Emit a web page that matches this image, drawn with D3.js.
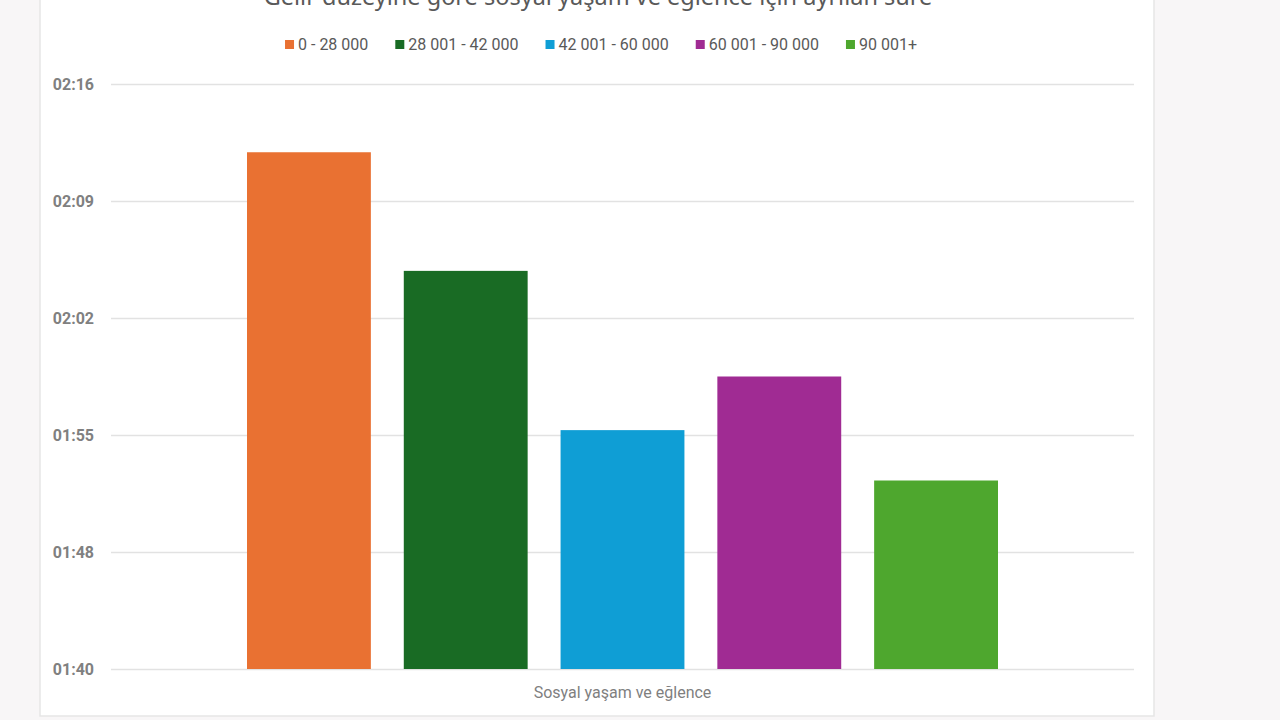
<!DOCTYPE html>
<html>
<head>
<meta charset="utf-8">
<script src="https://cdn.jsdelivr.net/npm/d3@7"></script>
<style>
  body { margin: 0; background: #f8f6f7; }
  svg { display: block; font-family: "Noto Sans", sans-serif; }
</style>
</head>
<body>
<script>
// time spent, in minutes, per income group
const category = "Sosyal yaşam ve eğlence";
const groups = ["0 - 28 000", "28 001 - 42 000", "42 001 - 60 000", "60 001 - 90 000", "90 001+"];
const minutes = [132.6, 125.3, 115.5, 118.8, 112.4];
const colors = ["#e97132", "#196b24", "#0f9ed5", "#a02b93", "#4ea72e"];
// axis ticks (Excel major unit 0.005 day = 7.2 min)
const tickMinutes = [100.8, 108, 115.2, 122.4, 129.6, 136.8];
const title = "Gelir düzeyine göre sosyal yaşam ve eğlence için ayrılan süre";

let w = 1280, h = 720;

const svg = d3.select("body").append("svg")
  .attr("width", w)
  .attr("height", h);

// white chart panel
svg.append("rect")
  .attr("x", 40).attr("y", -2)
  .attr("width", 1114).attr("height", 718)
  .attr("fill", "#fff")
  .attr("stroke", "#e6e6e6")
  .attr("stroke-width", 1.5);

const yScale = d3.scaleLinear()
  .domain([tickMinutes[0], tickMinutes[tickMinutes.length - 1]])
  .range([669, 84]);

const fmt = function(m) {
  const hh = Math.floor(m / 60), mm = Math.floor(m % 60);
  return String(hh).padStart(2, "0") + ":" + String(mm).padStart(2, "0");
};

const yAxis = d3.axisLeft(yScale)
  .tickValues(tickMinutes)
  .tickFormat(fmt)
  .tickSize(-1023)
  .tickPadding(17);

const gy = svg.append("g")
  .attr("transform", "translate(111,0)")
  .call(yAxis);
gy.select(".domain").remove();
gy.selectAll(".tick line").attr("stroke", "#e2e2e2").attr("stroke-width", 1.5);
gy.selectAll(".tick text")
  .attr("fill", "#808080")
  .attr("font-size", 16)
  .attr("font-weight", "bold")
  .attr("font-family", "Roboto, sans-serif");

const x0 = d3.scaleBand()
  .domain([category])
  .range([111, 1134]);

const x1 = d3.scaleBand()
  .domain(groups)
  .range([x0(category) + 136, x0(category) + x0.bandwidth() - 136])
  .paddingInner(0.21);

svg.selectAll("rect.bar")
  .data(groups)
  .enter()
  .append("rect")
  .attr("class", "bar")
  .attr("x", function(d) { return x1(d); })
  .attr("y", function(d, i) { return yScale(minutes[i]); })
  .attr("width", x1.bandwidth())
  .attr("height", function(d, i) { return yScale.range()[0] - yScale(minutes[i]); })
  .attr("fill", function(d, i) { return colors[i]; });

// category label
svg.append("text")
  .attr("x", x0(category) + x0.bandwidth() / 2)
  .attr("y", 698)
  .attr("text-anchor", "middle")
  .attr("font-size", 16)
  .attr("fill", "#7f7f7f")
  .attr("font-family", "Roboto, sans-serif")
  .text(category);

// title (cut off at top, as in the source)
svg.append("text")
  .attr("x", 598)
  .attr("y", 5)
  .attr("text-anchor", "middle")
  .attr("font-size", 23.5)
  .attr("fill", "#595959")
  .text(title);

// legend
const legend = svg.append("g");
let lx = 0;
groups.forEach(function(g, i) {
  const item = legend.append("g").attr("transform", "translate(" + lx + ",0)");
  item.append("rect")
    .attr("x", 0).attr("y", 40)
    .attr("width", 9).attr("height", 9)
    .attr("fill", colors[i]);
  const t = item.append("text")
    .attr("x", 13).attr("y", 50)
    .attr("font-size", 16)
    .attr("fill", "#595959")
    .attr("font-family", "Roboto, sans-serif")
    .text(g);
  lx += 13 + t.node().getComputedTextLength() + 27;
});
const lw = lx - 27;
legend.attr("transform", "translate(" + (601 - lw / 2) + ",0)");
</script>
</body>
</html>
